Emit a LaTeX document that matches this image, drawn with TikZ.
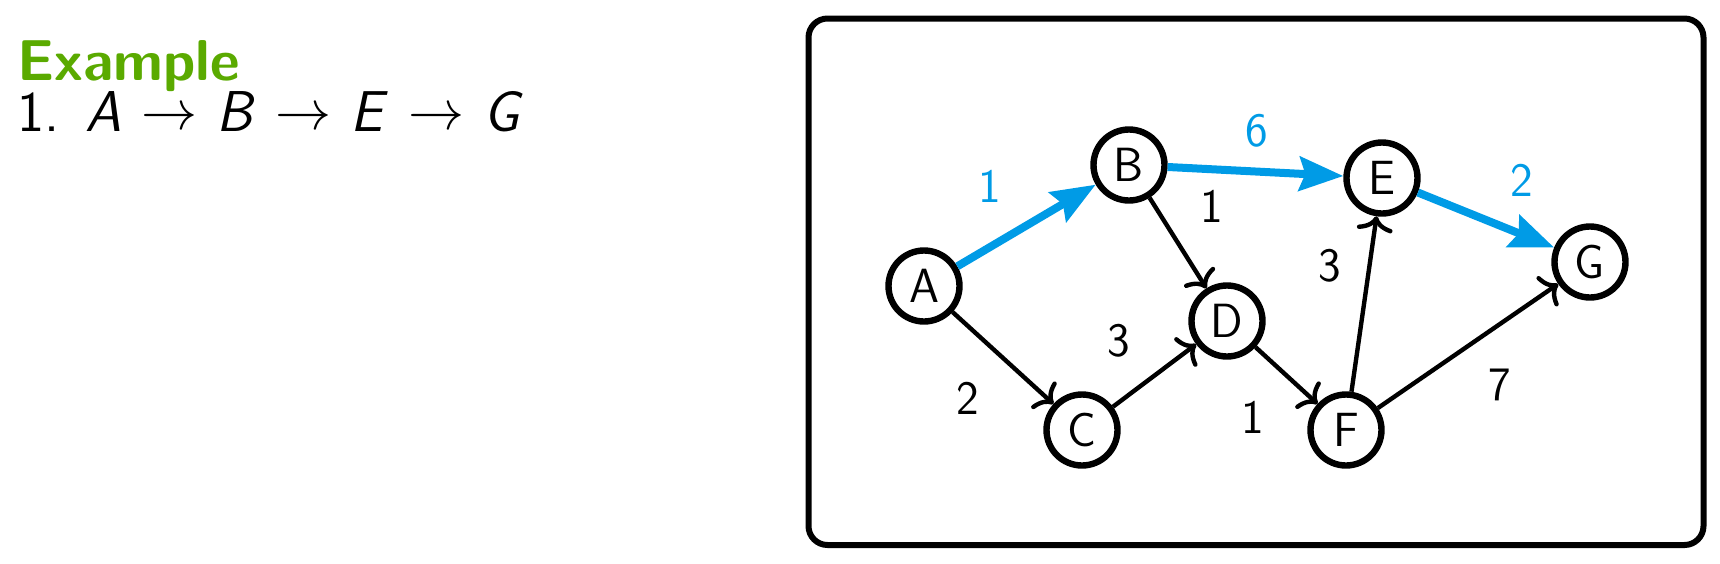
\RequirePackage{fix-cm}
\documentclass[tikz,border=0pt]{standalone}
\usepackage{graphicx}
\usetikzlibrary{arrows.meta}
\definecolor{exgreen}{RGB}{90,170,0}
\definecolor{pathblue}{RGB}{0,155,230}
\newcommand{\pathto}{\/\hspace{10pt}\raisebox{0.6pt}{\resizebox{28pt}{!}{$\rightarrow$}}\hspace{9.5pt}}
\begin{document}
\begin{tikzpicture}[x=0.5pt,y=-0.5pt,
  vertex/.style={circle, draw, line width=3.2pt, minimum size=35.5pt, inner sep=0pt, font=\fontsize{24}{28}\sffamily},
  plain/.style={line width=2.2pt, -{Computer Modern Rightarrow[width=18pt,length=7.5pt]}},
  best/.style={pathblue, line width=4pt, -{Stealth[length=22pt,width=17pt,inset=3pt]}},
  wlabel/.style={font=\fontsize{24}{28}\sffamily, inner sep=0pt},
  bluelabel/.style={wlabel, text=pathblue},
  heading/.style={anchor=base west, inner sep=0pt, font=\fontsize{28.8}{34}\sffamily},
]
\useasboundingbox (0,0) rectangle (1720,563);
% left text
\node[heading, text=exgreen, font=\fontsize{28.8}{34}\sffamily\bfseries] (title) at (17,80) {Example};
\node[heading] (route) at (17,131) {1.\hspace{13pt}\textit{A}\pathto\textit{B}\pathto\textit{E}\pathto\textit{G}};
% frame
\draw[line width=3pt, rounded corners=9.5pt] (808.5,18.5) rectangle (1703.5,545);
% vertices
\node[vertex] (A) at (924,286) {A};
\node[vertex] (B) at (1129,165) {B};
\node[vertex] (C) at (1082,430) {C};
\node[vertex] (D) at (1227,321) {D};
\node[vertex] (E) at (1382,178) {E};
\node[vertex] (F) at (1346,430) {F};
\node[vertex] (G) at (1590,262) {G};
% edges
\draw[best] (A) -- (B);
\draw[best] (B) -- (E);
\draw[best] (E) -- (G);
\draw[plain] (A) -- (C);
\draw[plain] (B) -- (D);
\draw[plain] (C) -- (D);
\draw[plain] (D) -- (F);
\draw[plain] (F) -- (E);
\draw[plain] (F) -- (G);
% weights
\node[bluelabel] (wAB) at (990,186) {1};
\node[bluelabel] (wBE) at (1257,131) {6};
\node[bluelabel] (wEG) at (1522,180) {2};
\node[wlabel] (wAC) at (968,398) {2};
\node[wlabel] (wBD) at (1212,206) {1};
\node[wlabel] (wCD) at (1119,341) {3};
\node[wlabel] (wDF) at (1253,417) {1};
\node[wlabel] (wFE) at (1330,266) {3};
\node[wlabel] (wFG) at (1500,385) {7};
\end{tikzpicture}
\end{document}
